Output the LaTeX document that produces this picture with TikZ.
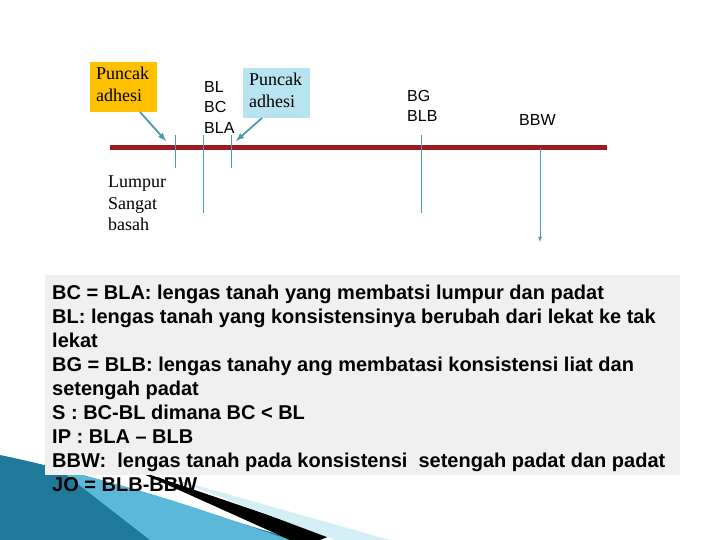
\documentclass[tikz,border=0pt]{standalone}
\usepackage{fontspec}
\newfontfamily\arial{Liberation Sans}
\setmainfont{Liberation Serif}
\definecolor{rl}{HTML}{9B1C20}
\definecolor{tl}{HTML}{4A9BB0}
\definecolor{yb}{HTML}{FFC000}
\definecolor{bb}{HTML}{B7E4F0}
\definecolor{dk}{HTML}{1F7A99}
\definecolor{lt}{HTML}{5BB8D8}
\begin{document}
\begin{tikzpicture}[x=1pt,y=-1pt,
  tick/.style={draw=tl,line width=0.8pt},
  lbl/.style={font=\arial\fontsize{16}{20.5}\selectfont,align=left,inner sep=0},
  ser/.style={font=\fontsize{18}{21.5}\selectfont,align=left,inner sep=0},
  ln/.style={font=\arial\bfseries\fontsize{20}{24}\selectfont,anchor=base west,inner sep=0}]
\useasboundingbox (0,0) rectangle (720,540);
% decoration
\fill[dk] (0,455) .. controls (120,480) and (220,520) .. (300,540) -- (0,540) -- cycle;
\fill[lt] (60,470) .. controls (150,490) and (230,520) .. (290,540) -- (150,540) -- cycle;
\fill[black] (130,468) -- (330,536) -- (320,540) -- (290,540) -- cycle;
\fill[bb!60!white] (170,478) -- (390,540) -- (335,540) -- cycle;
% text box
\node[fill=black!6,minimum width=635,minimum height=200,anchor=north west,inner sep=0] (tb) at (45,275) {};
\node[ln] (l1) at (52,299) {BC = BLA: lengas tanah yang membatsi lumpur dan padat};
\node[ln] (l2) at (52,323) {BL: lengas tanah yang konsistensinya berubah dari lekat ke tak};
\node[ln] (l3) at (52,347) {lekat};
\node[ln] (l4) at (52,371) {BG = BLB: lengas tanahy ang membatasi konsistensi liat dan};
\node[ln] (l5) at (52,395) {setengah padat};
\node[ln] (l6) at (52,419) {S : BC-BL dimana BC < BL};
\node[ln] (l7) at (52,443) {IP : BLA – BLB};
\node[ln] (l8) at (52,467) {BBW:\ \ lengas tanah pada konsistensi\ \ setengah padat dan padat};
\node[ln] (l9) at (52,491) {JO = BLB-BBW};
% axis
\draw[rl,line width=5pt] (110,148) coordinate (a0) -- (607,148) coordinate (a1);
\draw[tick] (175,135) coordinate (t1a) -- (175,168) coordinate (t1b);
\draw[tick] (203,135) coordinate (t2a) -- (203,213) coordinate (t2b);
\draw[tick] (231,135) coordinate (t3a) -- (231,168) coordinate (t3b);
\draw[tick] (421,135) coordinate (t4a) -- (421,213) coordinate (t4b);
\draw[tick,-latex] (540,148) coordinate (t5a) -- (540,242) coordinate (t5b);
% boxes
\node[fill=yb,minimum width=67,minimum height=50,anchor=north west,inner sep=0] (yb) at (90,62) {};
\node[ser,anchor=north west] (yt) at (96,67) {Puncak\\adhesi};
\node[fill=bb,minimum width=67,minimum height=50,anchor=north west,inner sep=0] (bbx) at (243,68) {};
\node[ser,anchor=north west] (bt) at (249,73) {Puncak\\adhesi};
\coordinate (ya) at (140,112); \coordinate (ye) at (166,141);
\coordinate (ba) at (262,118); \coordinate (be) at (236,141);
\draw[tl,line width=1.8pt,-latex] (ya) -- (ye);
\draw[tl,line width=1.8pt,-latex] (ba) -- (be);
% labels
\node[lbl,anchor=north west] (bl) at (204,81) {BL\\BC\\BLA};
\node[lbl,anchor=north west] (bg) at (407,90) {BG\\BLB};
\node[lbl,anchor=north west] (bbw) at (519,114) {BBW};
\node[ser,anchor=north west] (lu) at (108,176) {Lumpur\\Sangat\\basah};
\end{tikzpicture}
\end{document}
